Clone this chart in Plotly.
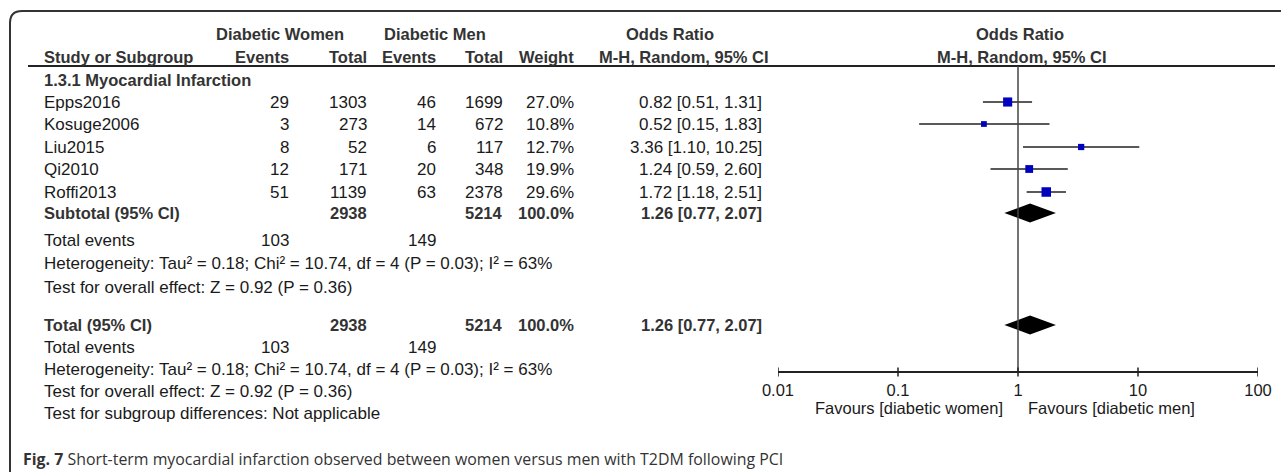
import numpy as np
import plotly.graph_objects as go

# ---------------- data ----------------
studies = ["Epps2016", "Kosuge2006", "Liu2015", "Qi2010", "Roffi2013"]
women_events = [29, 3, 8, 12, 51]
women_total = [1303, 273, 52, 171, 1139]
men_events = [46, 14, 6, 20, 63]
men_total = [1699, 672, 117, 348, 2378]
weights = [27.0, 10.8, 12.7, 19.9, 29.6]
odds_ratio = [0.82, 0.52, 3.36, 1.24, 1.72]
ci_low = [0.51, 0.15, 1.10, 0.59, 1.18]
ci_high = [1.31, 1.83, 10.25, 2.60, 2.51]

pooled_women_total = 2938
pooled_men_total = 5214
pooled_weight = 100.0
pooled_or = 1.26
pooled_low = 0.77
pooled_high = 2.07
total_events_women = 103
total_events_men = 149

group_label = "1.3.1 Myocardial Infarction"
heterogeneity = "Heterogeneity: Tau² = 0.18; Chi² = 10.74, df = 4 (P = 0.03); I² = 63%"
overall_effect = "Test for overall effect: Z = 0.92 (P = 0.36)"
subgroup_diff = "Test for subgroup differences: Not applicable"
axis_ticks = [0.01, 0.1, 1, 10, 100]
axis_ticktext = ["0.01", "0.1", "1", "10", "100"]
favours_left = "Favours [diabetic women]"
favours_right = "Favours [diabetic men]"
caption_bold = "Fig. 7"
caption_text = "Short-term myocardial infarction observed between women versus men with T2DM following PCI"

# ---------------- layout (pixel slots) ----------------
W, H = 1281, 472
Y_HDR1, Y_HDR2, Y_HLINE = 34, 57, 66
Y_GROUP = 80
Y_STUDY = [102, 124, 147, 169, 192]
Y_SUB, Y_TEV, Y_HET, Y_TEST = 213, 240, 263, 287
Y_TOT, Y_TEV2, Y_HET2, Y_TEST2, Y_SUBG = 325, 347, 369, 391, 413
Y_AXIS, Y_FAV, Y_CAP = 372, 408, 459
X_LABEL = 42
C_WE, C_WT, C_ME, C_MT, C_W, C_OR = 291, 369, 438, 505, 576, 764
PLOT_L, PLOT_R = 778, 1258

FONT = "Liberation Sans, Arial, sans-serif"
FS = 17          # regular text
FSB = 16.5       # bold text
TXT = "#1a1a1a"
BOLD = "#333333"

fig = go.Figure()

annotations = []


def txt(x, y, s, anchor="left", bold=False, color=None, size=None, family=FONT):
    annotations.append(dict(
        x=x, y=y, xref="x2", yref="y", text=(f"<b>{s}</b>" if bold else s),
        showarrow=False, xanchor=anchor, yanchor="middle",
        font=dict(family=family, size=size or (FSB if bold else FS),
                  color=color or (BOLD if bold else TXT)),
    ))


# headers
txt(280, Y_HDR1, "Diabetic Women", "center", True)
txt(435, Y_HDR1, "Diabetic Men", "center", True)
txt(670, Y_HDR1, "Odds Ratio", "center", True)
txt(1020, Y_HDR1, "Odds Ratio", "center", True)
txt(X_LABEL, Y_HDR2, "Study or Subgroup", "left", True)
txt(C_WE, Y_HDR2, "Events", "right", True)
txt(C_WT, Y_HDR2, "Total", "right", True)
txt(C_ME, Y_HDR2, "Events", "right", True)
txt(C_MT, Y_HDR2, "Total", "right", True)
txt(C_W, Y_HDR2, "Weight", "right", True)
txt(C_OR + 7, Y_HDR2, "M-H, Random, 95% CI", "right", True)
txt(1022, Y_HDR2, "M-H, Random, 95% CI", "center", True)

txt(X_LABEL, Y_GROUP, group_label, "left", True)

for i, s in enumerate(studies):
    y = Y_STUDY[i]
    txt(X_LABEL, y, s)
    txt(C_WE, y, str(women_events[i]), "right")
    txt(C_WT, y, str(women_total[i]), "right")
    txt(C_ME, y, str(men_events[i]), "right")
    txt(C_MT, y, str(men_total[i]), "right")
    txt(C_W, y, f"{weights[i]:.1f}%", "right")
    txt(C_OR, y, f"{odds_ratio[i]:.2f} [{ci_low[i]:.2f}, {ci_high[i]:.2f}]", "right")

for (yl, label) in [(Y_SUB, "Subtotal (95% CI)"), (Y_TOT, "Total (95% CI)")]:
    txt(X_LABEL, yl, label, "left", True)
    txt(C_WT, yl, str(pooled_women_total), "right", True)
    txt(C_MT, yl, str(pooled_men_total), "right", True)
    txt(C_W, yl, f"{pooled_weight:.1f}%", "right", True)
    txt(C_OR, yl, f"{pooled_or:.2f} [{pooled_low:.2f}, {pooled_high:.2f}]", "right", True)

for (ye, yh, yt) in [(Y_TEV, Y_HET, Y_TEST), (Y_TEV2, Y_HET2, Y_TEST2)]:
    txt(X_LABEL, ye, "Total events")
    txt(C_WE, ye, str(total_events_women), "right")
    txt(C_ME, ye, str(total_events_men), "right")
    txt(X_LABEL, yh, heterogeneity)
    txt(X_LABEL, yt, overall_effect)
txt(X_LABEL, Y_SUBG, subgroup_diff)

# favours (annotations on a log axis take log10 positions)
annotations.append(dict(x=np.log10(1) - 0.105, y=Y_FAV, xref="x", yref="y", text=favours_left,
                        showarrow=False, xanchor="right", yanchor="middle",
                        font=dict(family=FONT, size=16.5, color=TXT)))
annotations.append(dict(x=np.log10(1) + 0.07, y=Y_FAV, xref="x", yref="y", text=favours_right,
                        showarrow=False, xanchor="left", yanchor="middle",
                        font=dict(family=FONT, size=16.5, color=TXT)))

# caption
annotations.append(dict(x=21, y=Y_CAP, xref="x2", yref="y",
                        text=f"<b>{caption_bold}</b> {caption_text}",
                        showarrow=False, xanchor="left", yanchor="middle",
                        font=dict(family="Open Sans, Noto Sans, sans-serif", size=15.9, color="#333333")))

# ---------------- forest marks ----------------
or_arr = np.array(odds_ratio)
fig.add_trace(go.Scatter(
    x=odds_ratio, y=Y_STUDY, xaxis="x", yaxis="y", mode="markers",
    marker=dict(symbol="square", size=1.75 * np.sqrt(weights), color="#0000C0",
                opacity=1, line=dict(width=0)),
    error_x=dict(type="data", symmetric=False,
                 array=list(np.array(ci_high) - or_arr),
                 arrayminus=list(or_arr - np.array(ci_low)),
                 color="#222222", thickness=1.6, width=0),
    showlegend=False, hoverinfo="skip",
))

for yc in (Y_SUB, Y_TOT):
    h = 9.5
    fig.add_trace(go.Scatter(
        x=[pooled_low, pooled_or, pooled_high, pooled_or, pooled_low],
        y=[yc, yc - h, yc, yc + h, yc], xaxis="x", yaxis="y",
        mode="lines", fill="toself", fillcolor="#000000",
        line=dict(width=0, color="#000000"), showlegend=False, hoverinfo="skip",
    ))

# invisible helper on x2 so it's initialised
fig.add_trace(go.Scatter(x=[0, W], y=[0, 0], xaxis="x2", yaxis="y", mode="markers",
                         marker=dict(opacity=0), showlegend=False, hoverinfo="skip"))

shapes = []
# frame with rounded corner
shapes.append(dict(type="path", xref="x2", yref="y",
                   path=f"M 10 {H+5} L 10 23 Q 10 11 22 11 L {W+5} 11",
                   line=dict(color="#333333", width=2)))
# header line
shapes.append(dict(type="line", xref="x2", yref="y", x0=28, x1=1275, y0=Y_HLINE, y1=Y_HLINE,
                   line=dict(color="#222222", width=2)))
# null line (shapes on log axes take data values)
shapes.append(dict(type="line", xref="x", yref="y", x0=1, x1=1, y0=Y_HLINE, y1=Y_AXIS,
                   line=dict(color="#444444", width=1.5)))
# tick marks crossing the axis
for t in axis_ticks:
    shapes.append(dict(type="line", xref="x", yref="y", x0=t, x1=t, y0=Y_AXIS - 4.5, y1=Y_AXIS + 4.5,
                       line=dict(color="#222222", width=1.5)))

fig.update_layout(
    width=W, height=H, margin=dict(l=0, r=0, t=0, b=0, pad=0, autoexpand=False),
    paper_bgcolor="white", plot_bgcolor="rgba(0,0,0,0)",
    annotations=annotations, shapes=shapes, showlegend=False,
    xaxis=dict(type="log", range=[-2, 2], domain=[PLOT_L / W, PLOT_R / W],
               anchor="free", position=1 - Y_AXIS / H, automargin=False,
               showline=True, linecolor="#222222", linewidth=1.5,
               showgrid=False, zeroline=False, ticks="",
               tickvals=axis_ticks, ticktext=axis_ticktext,
               tickfont=dict(family=FONT, size=16.5, color=TXT),
               ticklabelstandoff=3),
    xaxis2=dict(range=[0, W], domain=[0, 1], anchor="y", visible=False, automargin=False),
    yaxis=dict(range=[H, 0], domain=[0, 1], visible=False, automargin=False),
)

fig.write_html("out.html")
